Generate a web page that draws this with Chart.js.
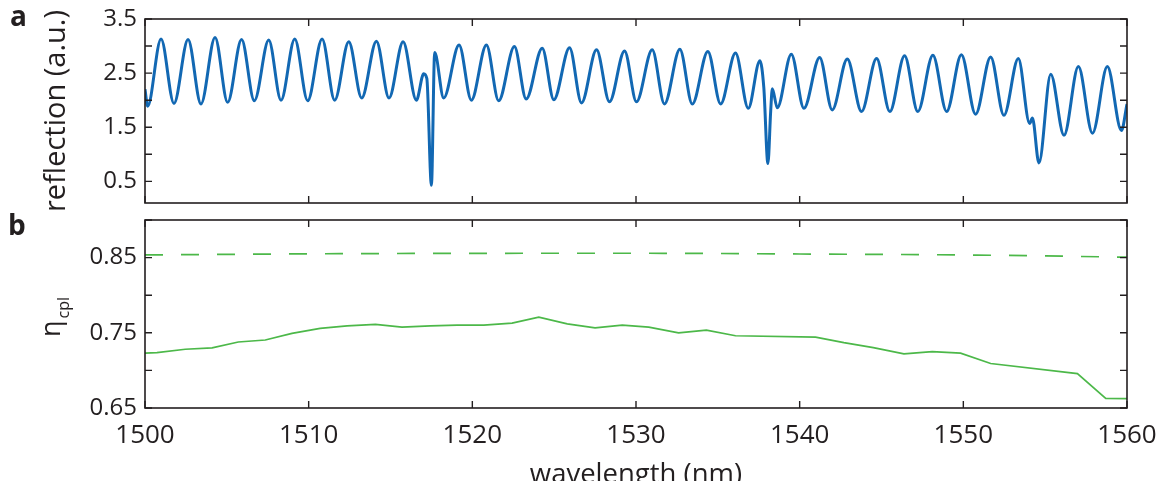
<!DOCTYPE html>
<html>
<head>
<meta charset="utf-8">
<script src="https://cdn.jsdelivr.net/npm/chart.js@4.4.1/dist/chart.umd.min.js"></script>
<style>
  html, body { margin: 0; padding: 0; background: #fff; overflow: hidden; width: 1166px; height: 481px; }
  .panel { position: absolute; left: 0; width: 1166px; }
  #wrapA { top: 0; height: 210px; }
  #wrapB { top: 210px; height: 271px; }
</style>
</head>
<body>
<div class="panel" id="wrapA"><canvas id="panelA"></canvas></div>
<div class="panel" id="wrapB"><canvas id="panelB"></canvas></div>
<script>
// ---- panel a: reflection spectrum (fringe maxima / minima and the three resonance dips)
const reflWavelength = [
  1500.00, 1500.16, 1500.98, 1501.77, 1502.63, 1503.42, 1504.28, 1505.05, 1505.90, 1506.68,
  1507.56, 1508.31, 1509.15, 1509.94, 1510.82, 1511.59, 1512.45, 1513.24, 1514.14, 1514.91,
  1515.77, 1516.58, 1517.03, 1517.22, 1517.50, 1517.70, 1518.25, 1519.19, 1519.94, 1520.86,
  1521.61, 1522.57, 1523.29, 1524.27, 1524.98, 1525.94, 1526.67, 1527.59, 1528.38, 1529.30,
  1530.03, 1530.99, 1531.74, 1532.68, 1533.44, 1534.39, 1535.17, 1536.08, 1536.86, 1537.57,
  1537.81, 1538.06, 1538.23, 1538.33, 1538.63, 1539.49, 1540.26, 1541.22, 1541.99, 1542.91,
  1543.78, 1544.70, 1545.51, 1546.41, 1547.22, 1548.14, 1548.98, 1549.88, 1550.75, 1551.67,
  1552.48, 1553.36, 1554.05, 1554.22, 1554.62, 1555.34, 1556.15, 1557.03, 1557.89, 1558.80,
  1559.66, 1560.00
];
const reflValue = [
  2.20, 1.89, 3.13, 1.94, 3.12, 1.93, 3.16, 1.96, 3.12, 1.99,
  3.11, 2.00, 3.13, 1.99, 3.13, 2.00, 3.08, 2.04, 3.09, 2.04,
  3.08, 2.00, 2.49, 2.40, 0.43, 2.88, 2.04, 3.02, 2.00, 3.02,
  1.99, 2.99, 2.02, 2.96, 2.01, 2.97, 1.95, 2.93, 1.97, 2.91,
  1.97, 2.93, 1.93, 2.94, 1.93, 2.90, 1.93, 2.87, 1.85, 2.73,
  2.23, 0.83, 1.80, 2.21, 1.86, 2.85, 1.85, 2.79, 1.82, 2.76,
  1.79, 2.77, 1.79, 2.82, 1.79, 2.83, 1.79, 2.84, 1.74, 2.80,
  1.72, 2.77, 1.57, 1.67, 0.84, 2.48, 1.35, 2.62, 1.39, 2.62,
  1.44, 1.93
];

// ---- panel b: coupling efficiency (measured, solid) and model (dashed)
const cplWavelength = [
  1500.00, 1500.73, 1502.46, 1504.10, 1505.70, 1507.35, 1508.98, 1510.70, 1512.35, 1514.08,
  1515.70, 1517.44, 1519.07, 1520.70, 1522.43, 1524.06, 1525.80, 1527.50, 1529.16, 1530.78,
  1532.60, 1534.30, 1536.08, 1540.97, 1542.70, 1544.50, 1546.37, 1548.10, 1549.83, 1551.67,
  1556.97, 1558.70, 1560.00
];
const cplValue = [
  0.7229, 0.7237, 0.7281, 0.7299, 0.7378, 0.7404, 0.7492, 0.7558, 0.7593, 0.7611,
  0.7575, 0.7593, 0.7601, 0.7601, 0.7628, 0.7707, 0.7619, 0.7566, 0.7601, 0.7575,
  0.7500, 0.7536, 0.7461, 0.7443, 0.7369, 0.7303, 0.7220, 0.7250, 0.7229, 0.7092,
  0.6957, 0.6628, 0.6624
];
const modelWavelength = [1500, 1510, 1520, 1530, 1540, 1550, 1555, 1560];
const modelValue      = [0.8535, 0.8550, 0.8557, 0.8558, 0.8548, 0.8535, 0.8522, 0.8505];

// ---- axes
const wavelengthTicks  = [1500, 1510, 1520, 1530, 1540, 1550, 1560];
const reflTicks        = [0.5, 1.0, 1.5, 2.0, 2.5, 3.0, 3.5];
const reflTickLabels   = ['0.5', '1.5', '2.5', '3.5'];
const cplTicks         = [0.65, 0.70, 0.75, 0.80, 0.85, 0.90];
const cplTickLabels    = ['0.65', '0.75', '0.85'];

const ink = '#231f20';
const blue = '#1268b3';
const green = '#4cb849';
const FONT = '"Open Sans", "DejaVu Sans", sans-serif';

function pts(xs, ys) { return xs.map((x, i) => ({ x: x, y: ys[i] })); }

function labelFor(list, digits) {
  return function (v) {
    const s = Number(v).toFixed(digits);
    return list.indexOf(s) >= 0 ? s : '';
  };
}

// labels may overhang the plot box; keep the box exactly where the layout padding puts it
function noOverhang(s) { s.paddingTop = 0; s.paddingBottom = 0; s.paddingLeft = 0; s.paddingRight = 0; }

// box around the plot area with inward tick marks on all four sides
function frameWithTicks(xTicks, yTicks) {
  return {
    id: 'frameWithTicks',
    afterDatasetsDraw(chart) {
      const { ctx, chartArea: a, scales } = chart;
      const len = 7;
      ctx.save();
      ctx.strokeStyle = ink;
      ctx.lineWidth = 1.4;
      ctx.beginPath();
      xTicks.forEach(v => {
        const px = scales.x.getPixelForValue(v);
        ctx.moveTo(px, a.top); ctx.lineTo(px, a.top + len);
        ctx.moveTo(px, a.bottom); ctx.lineTo(px, a.bottom - len);
      });
      yTicks.forEach(v => {
        const py = scales.y.getPixelForValue(v);
        ctx.moveTo(a.left, py); ctx.lineTo(a.left + len, py);
        ctx.moveTo(a.right, py); ctx.lineTo(a.right - len, py);
      });
      ctx.stroke();
      ctx.lineWidth = 1.6;
      ctx.strokeRect(a.left, a.top, a.right - a.left, a.bottom - a.top);
      ctx.restore();
    }
  };
}

function textPlugin(drawFn) {
  return { id: 'panelText', afterDraw(chart) { const ctx = chart.ctx; ctx.save(); drawFn(ctx, chart); ctx.restore(); } };
}

function yAxis(min, max, ticks, labels, digits) {
  return {
    type: 'linear', min: min, max: max,
    afterBuildTicks: s => { s.ticks = ticks.map(v => ({ value: v })); },
    afterFit: s => { s.width = 145; noOverhang(s); },
    grid: { display: false, drawTicks: false },
    border: { display: false },
    ticks: { callback: labelFor(labels, digits), color: ink, padding: 8, font: { family: FONT, size: 24 } }
  };
}

function build() {
  Chart.defaults.font.family = FONT;

  new Chart(document.getElementById('panelA'), {
    type: 'line',
    data: {
      datasets: [{
        data: pts(reflWavelength, reflValue),
        borderColor: blue, borderWidth: 3, pointRadius: 0,
        cubicInterpolationMode: 'monotone', fill: false
      }]
    },
    options: {
      responsive: true, maintainAspectRatio: false, animation: false, devicePixelRatio: 1,
      layout: { padding: { left: 0, right: 39, top: 19, bottom: 7 } },
      plugins: { legend: { display: false }, tooltip: { enabled: false } },
      scales: {
        x: { type: 'linear', min: 1500, max: 1560, display: false },
        y: yAxis(0.1, 3.5, reflTicks, reflTickLabels, 1)
      }
    },
    plugins: [
      frameWithTicks(wavelengthTicks, reflTicks),
      textPlugin((ctx, chart) => {
        ctx.fillStyle = ink;
        ctx.font = 'bold 28px ' + FONT;
        ctx.textBaseline = 'alphabetic';
        ctx.textAlign = 'left';
        ctx.fillText('a', 10, 26);
        const a = chart.chartArea;
        ctx.translate(57, (a.top + a.bottom) / 2);
        ctx.rotate(-Math.PI / 2);
        ctx.font = '29px ' + FONT;
        ctx.textAlign = 'center';
        ctx.textBaseline = 'middle';
        ctx.fillText('reflection (a.u.)', 0, 0);
      })
    ]
  });

  new Chart(document.getElementById('panelB'), {
    type: 'line',
    data: {
      datasets: [
        {
          data: pts(modelWavelength, modelValue),
          borderColor: green, borderWidth: 1.7, pointRadius: 0,
          borderDash: [18, 18], cubicInterpolationMode: 'monotone', fill: false
        },
        {
          data: pts(cplWavelength, cplValue),
          borderColor: green, borderWidth: 1.7, pointRadius: 0,
          tension: 0, fill: false
        }
      ]
    },
    options: {
      responsive: true, maintainAspectRatio: false, animation: false, devicePixelRatio: 1,
      layout: { padding: { left: 0, right: 39, top: 10, bottom: 0 } },
      plugins: { legend: { display: false }, tooltip: { enabled: false } },
      scales: {
        x: {
          type: 'linear', min: 1500, max: 1560,
          afterBuildTicks: s => { s.ticks = wavelengthTicks.map(v => ({ value: v })); },
          afterFit: s => { s.height = 73; noOverhang(s); },
          grid: { display: false, drawTicks: false },
          border: { display: false },
          ticks: { callback: v => String(v), color: ink, padding: 12, maxRotation: 0, font: { family: FONT, size: 26 } }
        },
        y: yAxis(0.65, 0.9, cplTicks, cplTickLabels, 2)
      }
    },
    plugins: [
      frameWithTicks(wavelengthTicks, cplTicks),
      textPlugin((ctx, chart) => {
        ctx.fillStyle = ink;
        ctx.font = 'bold 28px ' + FONT;
        ctx.textBaseline = 'alphabetic';
        ctx.textAlign = 'left';
        ctx.fillText('b', 8, 25);
        const a = chart.chartArea;
        // x axis title
        ctx.font = '27.5px ' + FONT;
        ctx.textAlign = 'center';
        ctx.fillText('wavelength (nm)', (a.left + a.right) / 2, 273);
        // y axis title: eta with subscript
        ctx.save();
        ctx.translate(60, 127);
        ctx.rotate(-Math.PI / 2);
        ctx.textAlign = 'left';
        ctx.font = '27px ' + FONT;
        ctx.fillText('η', 0, 0);
        const w = ctx.measureText('η').width;
        ctx.font = '16px ' + FONT;
        ctx.fillText('cpl', w + 2, 9);
        ctx.restore();
      })
    ]
  });
}

if (document.fonts && document.fonts.load) {
  Promise.all([
    document.fonts.load('24px "Open Sans"'),
    document.fonts.load('bold 28px "Open Sans"')
  ]).then(build, build);
} else {
  build();
}
</script>
</body>
</html>
